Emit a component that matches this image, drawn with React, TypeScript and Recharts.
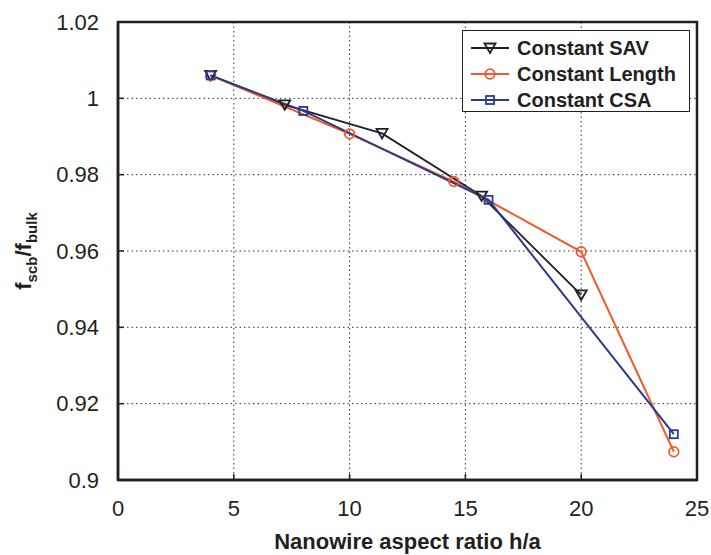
import { LineChart, Line, XAxis, YAxis, CartesianGrid, Legend, ReferenceArea } from "recharts";

const xTicks = [0, 5, 10, 15, 20, 25];
const yTicks = [0.9, 0.92, 0.94, 0.96, 0.98, 1, 1.02];

const savX = [4, 7.2, 11.4, 15.7, 20];
const savY = [1.006, 0.9983, 0.9908, 0.9744, 0.9485];

const lengthX = [4, 10, 14.5, 20, 24];
const lengthY = [1.006, 0.9907, 0.9782, 0.9598, 0.9074];

const csaX = [4, 8, 16, 24];
const csaY = [1.006, 0.9967, 0.9734, 0.912];

const BLACK = "#231f20";
const ORANGE = "#f15a29";
const BLUE = "#2b3990";
const FONT = "'Liberation Sans', Arial, Helvetica, sans-serif";

const toPoints = (xs: number[], ys: number[]) => xs.map((x, i) => ({ x, y: ys[i] }));

const savData = toPoints(savX, savY);
const lengthData = toPoints(lengthX, lengthY);
const csaData = toPoints(csaX, csaY);

type Shape = "tri" | "circle" | "square";

function marker(shape: Shape, cx: number, cy: number, color: string, key?: string) {
  if (shape === "tri") {
    return (
      <polygon
        key={key}
        points={`${cx - 5.5},${cy - 4.5} ${cx + 5.5},${cy - 4.5} ${cx},${cy + 5}`}
        fill="none"
        stroke={color}
        strokeWidth={1.8}
      />
    );
  }
  if (shape === "circle") {
    return <circle key={key} cx={cx} cy={cy} r={4.8} fill="none" stroke={color} strokeWidth={1.8} />;
  }
  return (
    <rect key={key} x={cx - 4} y={cy - 4} width={8} height={8} fill="none" stroke={color} strokeWidth={1.8} />
  );
}

const makeDot = (shape: Shape, color: string) => (props: any) =>
  marker(shape, props.cx, props.cy, color, `${shape}-${props.index}`);

const legendItems: { name: string; color: string; shape: Shape }[] = [
  { name: "Constant SAV", color: BLACK, shape: "tri" },
  { name: "Constant Length", color: ORANGE, shape: "circle" },
  { name: "Constant CSA", color: BLUE, shape: "square" },
];

function LegendBox() {
  return (
    <div
      style={{
        border: `1.5px solid ${BLACK}`,
        background: "#fff",
        width: 228,
        height: 82,
        boxSizing: "border-box",
        paddingTop: 4,
        fontFamily: FONT,
      }}
    >
      {legendItems.map((it) => (
        <div key={it.name} style={{ display: "flex", alignItems: "center", height: 26 }}>
          <svg width={54} height={16} style={{ flex: "none" }}>
            <line x1={8} x2={46} y1={8} y2={8} stroke={it.color} strokeWidth={2} />
            {marker(it.shape, 27, 8, it.color)}
          </svg>
          <span style={{ fontWeight: "bold", fontSize: 20, color: BLACK, lineHeight: "20px" }}>{it.name}</span>
        </div>
      ))}
    </div>
  );
}

function YLabel() {
  return (
    <text
      x={31}
      y={251}
      transform="rotate(-90 31 251)"
      textAnchor="middle"
      fontFamily={FONT}
      fontWeight="bold"
      fontSize={22}
      fill={BLACK}
    >
      f<tspan dy={6} fontSize={15}>scb</tspan>
      <tspan dy={-6}>/f</tspan>
      <tspan dy={6} fontSize={15}>bulk</tspan>
    </text>
  );
}

const tickStyle = { fontSize: 22, fill: BLACK, fontFamily: FONT };

export default function App() {
  return (
    <div style={{ position: "absolute", left: 0, top: 0, background: "#fff" }}>
      <LineChart width={711} height={555} margin={{ top: 22, right: 14, bottom: 35, left: 30 }}>
        <CartesianGrid stroke="#333" strokeDasharray="1.5 3" strokeWidth={1} />
        <XAxis
          type="number"
          dataKey="x"
          domain={[0, 25]}
          ticks={xTicks}
          height={40}
          tickSize={-6}
          tickMargin={26}
          tick={tickStyle}
          axisLine={{ stroke: BLACK, strokeWidth: 2.5 }}
          tickLine={{ stroke: BLACK, strokeWidth: 1.5 }}
          allowDataOverflow
          label={{
            value: "Nanowire aspect ratio h/a",
            position: "insideBottom",
            offset: -29,
            style: { fontSize: 22, fontWeight: "bold", fill: BLACK, fontFamily: FONT },
          }}
        />
        <XAxis
          xAxisId="top"
          orientation="top"
          type="number"
          dataKey="x"
          domain={[0, 25]}
          ticks={xTicks}
          height={0}
          tickSize={-6}
          tickFormatter={() => ""}
          axisLine={{ stroke: BLACK, strokeWidth: 2.5 }}
          tickLine={{ stroke: BLACK, strokeWidth: 1.5 }}
        />
        <YAxis
          type="number"
          domain={[0.9, 1.02]}
          ticks={yTicks}
          width={88}
          tickSize={-6}
          tickMargin={25}
          tick={tickStyle}
          tickFormatter={(v: number) => String(Number(v.toFixed(2)))}
          axisLine={{ stroke: BLACK, strokeWidth: 2.5 }}
          tickLine={{ stroke: BLACK, strokeWidth: 1.5 }}
          allowDataOverflow
          label={{ content: () => <YLabel /> }}
        />
        <YAxis
          yAxisId="right"
          orientation="right"
          type="number"
          domain={[0.9, 1.02]}
          ticks={yTicks}
          width={0}
          tickSize={-6}
          tickFormatter={() => ""}
          axisLine={{ stroke: BLACK, strokeWidth: 2.5 }}
          tickLine={{ stroke: BLACK, strokeWidth: 1.5 }}
        />
        <ReferenceArea x1={0} x2={25} y1={0.9} y2={1.02} fill="none" stroke={BLACK} strokeWidth={2.5} />
        <Legend
          layout="horizontal"
          verticalAlign="middle"
          align="center"
          content={() => <LegendBox />}
          wrapperStyle={{ top: 30, left: 462, width: 228 }}
        />
        <Line
          data={savData}
          dataKey="y"
          name="Constant SAV"
          stroke={BLACK}
          strokeWidth={1.8}
          dot={makeDot("tri", BLACK)}
          isAnimationActive={false}
        />
        <Line
          data={lengthData}
          dataKey="y"
          name="Constant Length"
          stroke={ORANGE}
          strokeWidth={2}
          dot={makeDot("circle", ORANGE)}
          isAnimationActive={false}
        />
        <Line
          data={csaData}
          dataKey="y"
          name="Constant CSA"
          stroke={BLUE}
          strokeWidth={2}
          dot={makeDot("square", BLUE)}
          isAnimationActive={false}
        />
      </LineChart>
    </div>
  );
}
